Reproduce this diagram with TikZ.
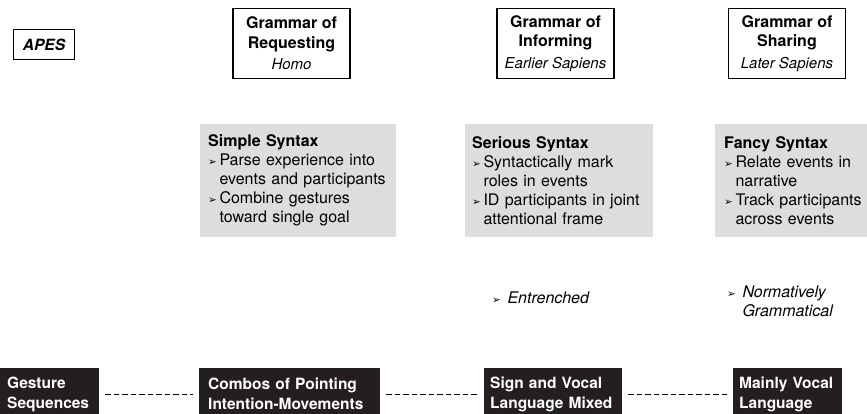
\documentclass[tikz,border=0pt]{standalone}
\usepackage{fontspec}
\setmainfont{TeX Gyre Heros}
\newfontfamily\dingfont{DejaVu Sans}
\usetikzlibrary{positioning}

\definecolor{boxgray}{RGB}{221,221,221}
\definecolor{stageblack}{RGB}{35,31,32}

% bullet and hanging indent
\newcommand{\bul}{{\dingfont\fontsize{10.5}{10}\selectfont ➢}\hspace{2.5pt}}
\newcommand{\ind}{\phantom{\bul}}
\newcommand{\nbul}{\bul\hspace{4pt}}
\newcommand{\nind}{\phantom{\nbul}}

\tikzset{
	apesbox/.style={draw, line width=1.1pt, minimum width=61, minimum height=30, inner sep=0pt, font=\fontsize{15.5}{17}\selectfont\bfseries\itshape},
	grammarbox/.style={draw, line width=1.1pt, minimum width=117, minimum height=70, inner sep=0pt, align=center, font=\fontsize{16}{19.5}\selectfont},
	syntaxbox/.style={fill=boxgray, anchor=north west, minimum height=113, inner ysep=0pt, align=left, font=\fontsize{16}{19}\selectfont},
	stagebox/.style={fill=stageblack, text=white, anchor=north west, minimum height=52, inner ysep=0pt, align=left, font=\fontsize{15.5}{20}\selectfont\bfseries},
	notetext/.style={anchor=north west, inner sep=0pt, align=left, font=\fontsize{16}{19}\selectfont\itshape},
	linkline/.style={line width=1pt, dash pattern=on 5.5pt off 3pt, shorten <=6pt, shorten >=6pt}
}

\begin{document}
\begin{tikzpicture}[x=1pt,y=1pt,yscale=-1,xscale=1]
	\useasboundingbox (0,0) rectangle (867,414);

	% Top row
	\node [apesbox] (apes) at (44,44.5) {APES};
	\node [grammarbox] (reqg) at (291.5,43.5) {\textbf{Grammar of}\\\textbf{Requesting}\\[2pt]{\itshape\fontsize{15}{18}\selectfont Homo}};
	\node [grammarbox] (infg) at (555.5,43.5) {\textbf{Grammar of}\\\textbf{Informing}\\[2pt]{\itshape\fontsize{15}{18}\selectfont Earlier Sapiens}};
	\node [grammarbox] (shrg) at (787,43.5) {\textbf{Grammar of}\\\textbf{Sharing}\\[2pt]{\itshape\fontsize{15}{18}\selectfont Later Sapiens}};

	% Syntax boxes
	\node [syntaxbox, inner xsep=8pt, text width=180] (simple) at (200,124) {\textbf{Simple Syntax}\\\bul Parse experience into\\\ind events and participants\\\bul Combine gestures\\\ind toward single goal};
	\node [syntaxbox, inner xsep=7pt, text width=174] (serious) at (465,124) {\textbf{Serious Syntax}\\\bul Syntactically mark\\\ind roles in events\\\bul ID participants in joint\\\ind attentional frame};
	\node [syntaxbox, inner xsep=9pt, text width=152] (fancy) at (715,124) {\textbf{Fancy Syntax}\\\bul Relate events in\\\ind narrative\\\bul Track participants\\\ind across events};

	% Notes
	\node [notetext] (entr) at (492,292) {\nbul Entrenched};
	\node [notetext] (norm) at (727,286) {\nbul Normatively\\\nind Grammatical};

	% Bottom row
	\node [stagebox, inner xsep=9pt, text width=83] (gest) at (-2,368) {Gesture\\Sequences};
	\node [stagebox, inner xsep=9pt, text width=163] (combo) at (199,368) {Combos of Pointing\\Intention-Movements};
	\node [stagebox, inner xsep=6pt, text width=126] (sign) at (484,368) {Sign and Vocal\\Language Mixed};
	\node [stagebox, inner xsep=6pt, text width=97] (vocal) at (733,368) {Mainly Vocal\\Language};

	\draw [linkline] (gest) -- (combo);
	\draw [linkline] (combo) -- (sign);
	\draw [linkline] (sign) -- (vocal);

\end{tikzpicture}
\end{document}
